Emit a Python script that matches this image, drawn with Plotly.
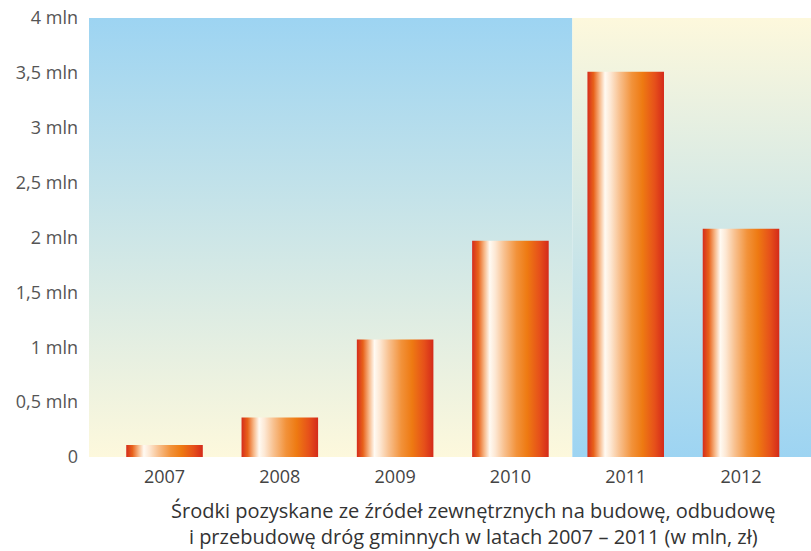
import plotly.graph_objects as go

years = ["2007", "2008", "2009", "2010", "2011", "2012"]
values = [0.11, 0.36, 1.07, 1.97, 3.51, 2.08]
ytick_vals = [0, 0.5, 1, 1.5, 2, 2.5, 3, 3.5, 4]
ytick_text = ["0", "0,5 mln", "1 mln", "1,5 mln", "2 mln", "2,5 mln", "3 mln", "3,5 mln", "4 mln"]
caption = ("Środki pozyskane ze źródeł zewnętrznych na budowę, odbudowę<br>"
           "i przebudowę dróg gminnych w latach 2007 – 2011 (w mln, zł)")

X_MIN, X_MAX = -0.655, 5.607
SPLIT = 3.537
BAR_W = 0.664
BLUE = "#9dd4f2"
CREAM = "#fdf8dc"

bar_scale = [
    [0.0, "#d52c1c"], [0.08, "#e8621a"], [0.16, "#f7b98a"], [0.23, "#fffaf2"],
    [0.3, "#fde8d4"], [0.42, "#f8c08e"], [0.58, "#f2923a"], [0.72, "#ee7a12"],
    [0.88, "#e6501a"], [1.0, "#d42a1a"],
]

fig = go.Figure()

# background panels
fig.add_trace(go.Scatter(
    x=[X_MIN, SPLIT, SPLIT, X_MIN, X_MIN], y=[0, 0, 4, 4, 0],
    mode="none", fill="toself", hoverinfo="skip", showlegend=False,
    fillgradient=dict(type="vertical", colorscale=[[0, CREAM], [1, BLUE]]),
))
fig.add_trace(go.Scatter(
    x=[SPLIT, X_MAX, X_MAX, SPLIT, SPLIT], y=[0, 0, 4, 4, 0],
    mode="none", fill="toself", hoverinfo="skip", showlegend=False,
    fillgradient=dict(type="vertical", colorscale=[[0, BLUE], [1, CREAM]]),
))

# base bars (data)
fig.add_trace(go.Bar(
    x=list(range(len(years))), y=values, width=BAR_W,
    marker=dict(color="#ee7a12", line=dict(width=0)),
    hoverinfo="skip", showlegend=False,
))

# gradient overlay on each bar
for i, v in enumerate(values):
    x0, x1 = i - BAR_W / 2, i + BAR_W / 2
    fig.add_trace(go.Scatter(
        x=[x0, x1, x1, x0, x0], y=[0, 0, v, v, 0],
        mode="none", fill="toself", hoverinfo="skip", showlegend=False,
        fillgradient=dict(type="horizontal", colorscale=bar_scale),
    ))

fig.add_annotation(
    text=caption, xref="paper", yref="paper", x=0.5325, y=-0.152,
    xanchor="center", yanchor="middle", showarrow=False, align="center",
    font=dict(family="Open Sans", size=20, color="#333333"),
)

fig.update_layout(
    width=811, height=551,
    margin=dict(l=89, r=0, t=18, b=94),
    paper_bgcolor="white", plot_bgcolor="white",
    font=dict(family="Open Sans", size=18, color="#555555"),
    hovermode=False,
    xaxis=dict(range=[X_MIN, X_MAX], tickvals=list(range(len(years))), ticktext=years,
               showgrid=False, zeroline=False, showline=False, ticks="",
               ticklabelstandoff=7,
               tickfont=dict(size=18, color="#444444")),
    yaxis=dict(range=[0, 4], tickvals=ytick_vals, ticktext=ytick_text,
               showgrid=False, zeroline=False, showline=False, ticks="",
               ticklabelstandoff=10,
               tickfont=dict(size=18, color="#555555")),
)

fig.write_html("out.html", config={"displayModeBar": False},
               post_script="document.body.style.margin='0';")
